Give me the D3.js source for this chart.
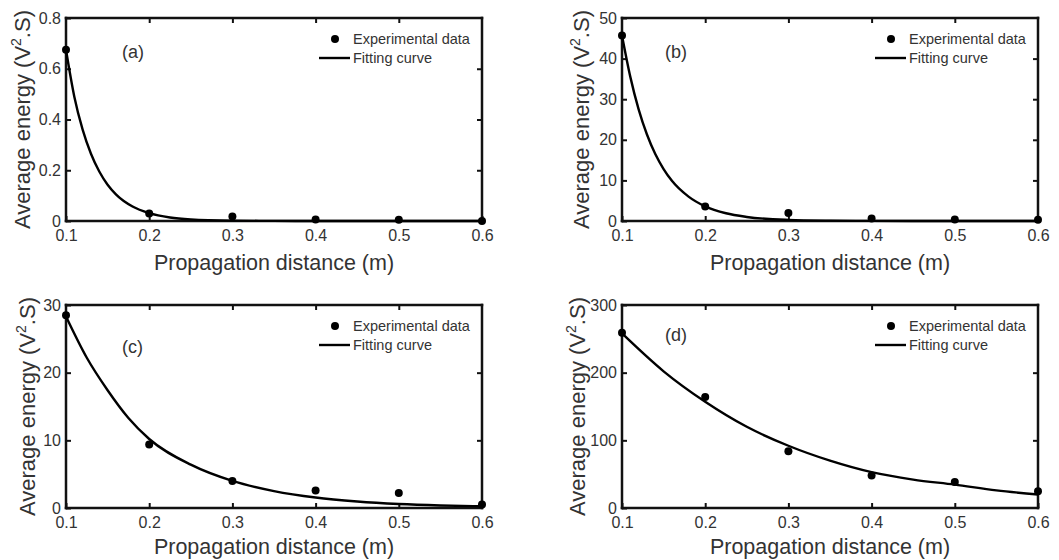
<!DOCTYPE html>
<html>
<head>
<meta charset="utf-8">
<script src="https://cdn.jsdelivr.net/npm/d3@7"></script>
<style>
  body { margin: 0; background: #fff; }
  svg { display: block; font-family: "Liberation Sans", Arial, sans-serif; }
</style>
</head>
<body>
<script>
// Datos
const distances = [0.1, 0.2, 0.3, 0.4, 0.5, 0.6];
const xTicks = [0.1, 0.2, 0.3, 0.4, 0.5, 0.6];

const expA = [0.675, 0.03, 0.018, 0.006, 0.005, 0.0];
const expB = [45.7, 3.6, 2.0, 0.6, 0.4, 0.3];
const expC = [28.5, 9.4, 4.0, 2.6, 2.2, 0.5];
const expD = [259, 164, 84, 48, 38.5, 24.7];

// Curva de ajuste, muestreada a ojo sobre la imagen
const fitXA = [0.1, 0.11, 0.12, 0.13, 0.14, 0.15, 0.16, 0.18, 0.2, 0.225, 0.25, 0.3, 0.35, 0.4, 0.5, 0.6];
const fitA = [0.675, 0.49, 0.36, 0.265, 0.195, 0.143, 0.105, 0.057, 0.031, 0.014, 0.0065, 0.0015, 0.0003, 0, 0, 0];
const fitXB = [0.1, 0.11, 0.12, 0.13, 0.14, 0.15, 0.16, 0.18, 0.2, 0.225, 0.25, 0.3, 0.35, 0.4, 0.5, 0.6];
const fitB = [45.7, 35.5, 27.5, 21.3, 16.5, 12.8, 9.9, 6.0, 3.6, 1.9, 1.0, 0.28, 0.08, 0.02, 0, 0];
const fitXC = [0.1, 0.125, 0.15, 0.175, 0.2, 0.25, 0.3, 0.35, 0.4, 0.45, 0.5, 0.55, 0.6];
const fitC = [28.3, 22.2, 17.4, 13.3, 10.2, 6.4, 4.0, 2.5, 1.55, 0.97, 0.6, 0.38, 0.25];
const fitXD = [0.1, 0.15, 0.2, 0.25, 0.3, 0.35, 0.4, 0.45, 0.5, 0.55, 0.6];
const fitD = [258, 202, 157, 120, 92, 70, 53, 42, 34.5, 26, 20];

const yTicksA = [0, 0.2, 0.4, 0.6, 0.8];
const yTicksB = [0, 10, 20, 30, 40, 50];
const yTicksC = [0, 10, 20, 30];
const yTicksD = [0, 100, 200, 300];

const panels = [
  { label: "(a)", exp: expA, fx: fitXA, fy: fitA, yTicks: yTicksA, yMax: 0.8,
    left: 66, top: 18, labDx: 56, labDy: 40, titleDx: 36, xTitleDy: 49 },
  { label: "(b)", exp: expB, fx: fitXB, fy: fitB, yTicks: yTicksB, yMax: 50,
    left: 622, top: 18, labDx: 43, labDy: 40, titleDx: 33, xTitleDy: 49 },
  { label: "(c)", exp: expC, fx: fitXC, fy: fitC, yTicks: yTicksC, yMax: 30,
    left: 66, top: 305, labDx: 56, labDy: 48, titleDx: 31, xTitleDy: 46 },
  { label: "(d)", exp: expD, fx: fitXD, fy: fitD, yTicks: yTicksD, yMax: 300,
    left: 622, top: 305, labDx: 43, labDy: 36, titleDx: 37, xTitleDy: 46 }
];

const W = 416, H = 203;
const lw = 2.5; // grosor del marco

const svg = d3.select("body").append("svg")
  .attr("width", 1059)
  .attr("height", 560);

// Ejes con marcas hacia dentro
const styleAxis = sel => {
  sel.select(".domain").remove();
  sel.selectAll(".tick line").attr("stroke", "#111").attr("stroke-width", 2);
  sel.selectAll(".tick text").attr("fill", "#333").style("font-size", "16px");
};

panels.forEach(p => {
  const x = d3.scaleLinear().domain([0.1, 0.6]).range([0, W]);
  const y = d3.scaleLinear().domain([0, p.yMax]).range([H, 0]);

  const g = svg.append("g").attr("transform", `translate(${p.left},${p.top})`);

  const fmtX = d3.format(".1f");
  const fmtY = p.yMax < 1 ? (d => d === 0 ? "0" : d3.format(".1f")(d)) : d3.format("d");

  g.append("g").attr("transform", `translate(0,${H})`)
    .call(d3.axisBottom(x).tickValues(xTicks).tickFormat(fmtX).tickSizeInner(-5).tickSizeOuter(0).tickPadding(9))
    .call(styleAxis);
  g.append("g")
    .call(d3.axisTop(x).tickValues(xTicks.slice(1, -1)).tickFormat(() => "").tickSizeInner(-5).tickSizeOuter(0))
    .call(styleAxis);
  g.append("g")
    .call(d3.axisLeft(y).tickValues(p.yTicks).tickFormat(fmtY).tickSizeInner(-5).tickSizeOuter(0).tickPadding(5))
    .call(styleAxis);
  g.append("g").attr("transform", `translate(${W},0)`)
    .call(d3.axisRight(y).tickValues(p.yTicks.slice(1, -1)).tickFormat(() => "").tickSizeInner(-5).tickSizeOuter(0))
    .call(styleAxis);

  g.selectAll("g.tick text").attr("font-family", null);

  // Marco como cuatro barras rellenas
  const edges = [
    [-lw / 2, -lw / 2, W + lw, lw],
    [-lw / 2, H - lw / 2, W + lw, lw],
    [-lw / 2, -lw / 2, lw, H + lw],
    [W - lw / 2, -lw / 2, lw, H + lw]
  ];
  g.selectAll("rect.edge")
    .data(edges)
    .join("rect")
    .attr("class", "edge")
    .attr("x", d => d[0]).attr("y", d => d[1])
    .attr("width", d => d[2]).attr("height", d => d[3])
    .attr("fill", "#111");

  // Curva de ajuste
  const fit = p.fx.map((v, i) => [v, p.fy[i]]);
  g.append("path")
    .datum(fit)
    .attr("fill", "none")
    .attr("stroke", "#000")
    .attr("stroke-width", 2.4)
    .attr("d", d3.line().x(d => x(d[0])).y(d => y(d[1])).curve(d3.curveMonotoneX));

  // Puntos experimentales
  g.selectAll("circle.pt")
    .data(distances.map((d, i) => [d, p.exp[i]]))
    .join("circle")
    .attr("class", "pt")
    .attr("cx", d => x(d[0]))
    .attr("cy", d => y(d[1]))
    .attr("r", 4)
    .attr("fill", "#000");

  // Etiqueta del panel
  g.append("text")
    .attr("x", p.labDx).attr("y", p.labDy)
    .attr("fill", "#333")
    .style("font-size", "18px")
    .text(p.label);

  // Leyenda
  const lg = g.append("g").attr("transform", `translate(${W - 163},21)`);
  lg.append("circle").attr("cx", 16).attr("cy", 0).attr("r", 4).attr("fill", "#000");
  lg.append("text").attr("x", 34).attr("y", 5).attr("fill", "#333").style("font-size", "14.5px").text("Experimental data");
  lg.append("line").attr("x1", 0).attr("x2", 31).attr("y1", 19).attr("y2", 19)
    .attr("stroke", "#000").attr("stroke-width", 2.4);
  lg.append("text").attr("x", 34).attr("y", 24).attr("fill", "#333").style("font-size", "14.5px").text("Fitting curve");

  // Títulos de ejes
  g.append("text")
    .attr("x", W / 2).attr("y", H + p.xTitleDy)
    .attr("text-anchor", "middle")
    .attr("fill", "#333")
    .style("font-size", "21.5px")
    .text("Propagation distance (m)");

  const yt = g.append("text")
    .attr("transform", `translate(${-p.titleDx},${H / 2}) rotate(-90)`)
    .attr("text-anchor", "middle")
    .attr("fill", "#333")
    .style("font-size", "22px");
  yt.append("tspan").text("Average energy (V");
  yt.append("tspan").attr("dy", -9).style("font-size", "14px").text("2");
  yt.append("tspan").attr("dy", 9).text(".S)");
});
</script>
</body>
</html>
